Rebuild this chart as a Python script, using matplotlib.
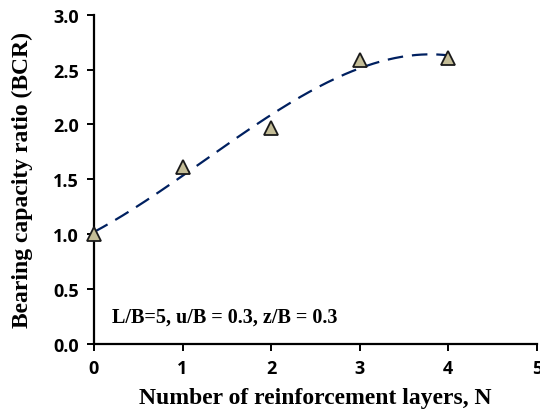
import numpy as np
import matplotlib
matplotlib.use("Agg")
from matplotlib import pyplot as plt

layers = [0, 1, 2, 3, 4]
bcr = [1.0, 1.61, 1.97, 2.59, 2.61]
note = "L/B=5, u/B = 0.3, z/B = 0.3"

fig = plt.figure(figsize=(5.4, 4.14), dpi=100)
ax = fig.add_axes([0.174, 0.167, 0.820, 0.795])

# cubic trend line through the measured points
coef = np.polyfit(layers, bcr, 3)
xs = np.linspace(0, 4, 200)
ax.plot(xs, np.polyval(coef, xs), color="#002060", lw=1.6, dashes=(7, 4), zorder=2)
ax.plot(layers, bcr, ls="none", marker="^", ms=10, mfc="#c4bd97", mec="#1a1a1a",
        mew=1.3, zorder=3, clip_on=False)

ax.set_xlim(0, 5)
ax.set_ylim(0, 3.0)
ax.set_xticks(range(6))
ax.set_yticks(np.arange(0, 3.01, 0.5))
ax.set_yticklabels([f"{v:.1f}" for v in np.arange(0, 3.01, 0.5)])
for s in ["top", "right"]:
    ax.spines[s].set_visible(False)
for s in ["left", "bottom"]:
    ax.spines[s].set_linewidth(1.6)
ax.tick_params(direction="out", length=5, width=1.4, labelsize=13, pad=6)
for lab in ax.get_xticklabels() + ax.get_yticklabels():
    lab.set_fontweight("bold")
    lab.set_family("Open Sans")

serif = dict(family="Liberation Serif", fontweight="bold")
ax.set_xlabel("Number of reinforcement layers, N", fontsize=17, labelpad=7, **serif)
ax.set_ylabel("Bearing capacity ratio (BCR)", fontsize=17, labelpad=14, **serif)
ax.text(0.2, 0.2, note, fontsize=14.5, **serif)

fig.savefig("out.png", dpi=100)
